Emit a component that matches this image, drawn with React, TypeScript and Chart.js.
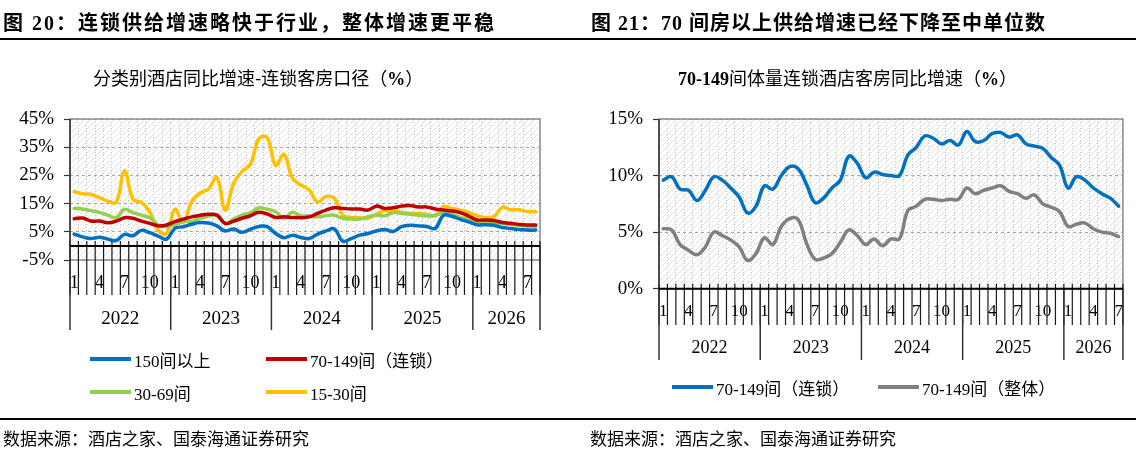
import { useEffect, useRef } from 'react';
import { Chart, registerables } from 'chart.js';

Chart.register(...registerables);

// x axis groups: left panel runs to 2026-08, right panel to 2026-07
const years = ['2022', '2023', '2024', '2025', '2026'];
const leftYearSpans = [12, 12, 12, 12, 8];
const rightYearSpans = [12, 12, 12, 12, 7];
const shownMonths = ['1', '4', '7', '10'];

const leftNames = ['150间以上', '70-149间（连锁）', '30-69间', '15-30间'];
const leftColors = ['#0070C0', '#C00000', '#92D050', '#FFC000'];
const rightNames = ['70-149间（连锁）', '70-149间（整体）'];
const rightColors = ['#0070C0', '#808080'];

// 分类别酒店同比增速（%）
const rooms150Plus = [
  4.2, 3.2, 2.6, 3.1, 2.4, 1.9, 4.1, 3.6, 5.5, 4.7,
  3.5, 2.4, 6.2, 6.8, 7.7, 8.3, 8.1, 7.1, 5.3, 6.0,
  4.8, 5.9, 6.9, 6.8, 4.4, 2.9, 3.8, 3.0, 2.6, 4.2,
  5.3, 6.0, 1.7, 2.6, 3.8, 4.4, 5.3, 5.8, 5.1, 6.8,
  7.3, 7.1, 6.9, 6.2, 10.8, 10.5, 9.4, 8.5, 7.5, 7.5,
  7.3, 6.5, 6.2, 5.8, 5.6, 5.6,
];
const rooms70to149Chain = [
  9.6, 9.9, 8.8, 8.8, 8.2, 8.8, 10.0, 9.8, 8.8, 8.0,
  7.1, 7.4, 8.6, 9.5, 10.3, 10.9, 11.2, 10.9, 8.0, 8.8,
  9.8, 10.7, 11.9, 11.3, 10.1, 10.3, 10.1, 10.0, 10.3, 11.5,
  12.7, 13.5, 13.3, 13.1, 13.1, 12.7, 14.1, 13.3, 13.5, 14.1,
  14.3, 13.8, 13.8, 13.1, 12.7, 12.4, 11.8, 10.6, 9.2, 9.2,
  9.0, 8.3, 8.0, 7.6, 7.4, 7.4,
];
const rooms30to69 = [
  13.3, 13.1, 12.5, 11.9, 10.9, 10.0, 13.0, 11.8, 10.9, 10.0,
  7.4, 6.8, 7.4, 8.8, 8.6, 9.8, 10.6, 10.9, 7.8, 9.5,
  10.9, 11.8, 13.5, 13.0, 12.1, 9.8, 11.9, 10.7, 10.6, 10.3,
  10.7, 10.9, 9.8, 9.5, 9.5, 10.3, 10.9, 10.7, 11.8, 11.6,
  11.2, 10.9, 10.6, 10.9, 11.6, 11.2, 10.1, 9.4, 8.0, 8.3,
  8.2, 8.0, 7.6, 7.4, 7.0, 6.8,
];
const rooms15to30 = [
  19.2, 18.5, 18.3, 17.1, 15.9, 15.4, 26.6, 16.6, 15.4, 12.1,
  5.6, 4.4, 13.0, 8.3, 15.7, 18.7, 20.2, 24.2, 12.7, 22.2,
  26.4, 29.0, 38.0, 38.4, 28.5, 32.5, 24.0, 21.6, 19.8, 15.5,
  17.5, 16.9, 10.9, 10.1, 10.0, 9.8, 11.2, 12.5, 12.4, 11.9,
  11.5, 11.6, 11.2, 10.6, 13.9, 13.3, 12.7, 11.9, 10.7, 10.0,
  10.3, 13.7, 12.8, 12.8, 12.2, 12.1,
];

// 70-149间体量客房同比增速（%）
const chain70to149 = [
  9.6, 9.9, 8.8, 8.7, 7.8, 8.7, 9.9, 9.6, 8.9, 8.1,
  6.7, 7.3, 9.1, 8.8, 10.0, 10.8, 10.6, 9.2, 7.6, 8.0,
  8.9, 9.6, 11.7, 11.1, 9.8, 10.3, 10.1, 10.0, 10.0, 11.8,
  12.5, 13.5, 13.3, 12.8, 13.1, 12.7, 13.9, 13.0, 13.1, 13.7,
  13.8, 13.4, 13.6, 12.8, 12.6, 12.4, 11.6, 10.9, 8.9, 9.9,
  9.6, 8.9, 8.4, 8.0, 7.3,
];
const total70to149 = [
  5.3, 5.2, 3.9, 3.4, 3.0, 3.7, 5.0, 4.7, 4.3, 3.7,
  2.5, 3.1, 4.5, 3.9, 5.5, 6.2, 6.1, 4.0, 2.6, 2.7,
  3.1, 4.1, 5.2, 4.7, 3.9, 4.4, 3.8, 4.4, 4.4, 6.9,
  7.3, 7.9, 7.9, 7.8, 7.9, 7.9, 8.9, 8.4, 8.7, 8.9,
  9.1, 8.6, 8.4, 8.0, 8.3, 7.5, 7.2, 6.8, 5.5, 5.7,
  5.8, 5.3, 5.0, 4.9, 4.6,
];

const buildMonths = (spans: number[]) =>
  spans.flatMap((s, i) => Array.from({ length: s }, (_, m) => `${years[i]}-${m + 1}`));

const SERIF = '"Liberation Serif", "Times New Roman", "Noto Sans CJK SC", serif';
const CJK = '"Noto Sans CJK SC", "Liberation Sans", sans-serif';

let hatch: CanvasPattern | string | null = null;
const getHatch = () => {
  if (hatch) return hatch;
  const c = document.createElement('canvas');
  c.width = 6;
  c.height = 6;
  const g = c.getContext('2d');
  if (!g) return '#f3f3f3';
  g.fillStyle = '#ffffff';
  g.fillRect(0, 0, 6, 6);
  g.strokeStyle = '#e2e2e2';
  g.lineWidth = 1;
  g.beginPath();
  g.moveTo(0, 6);
  g.lineTo(6, 0);
  g.stroke();
  hatch = g.createPattern(c, 'repeat') ?? '#f3f3f3';
  return hatch;
};

// Excel-like two level category axis (month ticks + year groups)
const excelAxis = {
  id: 'excelAxis',
  beforeDraw(chart: any) {
    const { ctx, chartArea: a } = chart;
    ctx.save();
    ctx.fillStyle = getHatch();
    ctx.fillRect(a.left, a.top, a.width, a.height);
    ctx.restore();
  },
  beforeDatasetsDraw(chart: any, _args: any, o: any) {
    const { ctx, chartArea: a, scales } = chart;
    const x = scales.x;
    const y = scales.y;
    const n = chart.data.labels.length;
    const step = x.getPixelForValue(1) - x.getPixelForValue(0);
    const edge = (k: number) => x.getPixelForValue(0) - step / 2 + k * step;
    const y0 = y.getPixelForValue(0);
    ctx.save();

    ctx.strokeStyle = '#8c8c8c';
    ctx.lineWidth = 1.5;
    ctx.strokeRect(a.left, a.top, a.width, a.height);

    // month tick marks
    ctx.strokeStyle = '#1a1a1a';
    ctx.lineWidth = 1.2;
    ctx.beginPath();
    for (let k = 0; k <= n; k++) {
      const px = edge(k);
      ctx.moveTo(px, y0 - 5);
      ctx.lineTo(px, o.monthBottom);
    }
    ctx.stroke();

    // year separators
    const bounds = [0];
    o.spans.forEach((s: number) => bounds.push(bounds[bounds.length - 1] + s));
    ctx.lineWidth = 1.5;
    ctx.strokeStyle = '#333333';
    ctx.beginPath();
    bounds.forEach((b) => {
      const px = edge(b);
      ctx.moveTo(px, y0);
      ctx.lineTo(px, o.yearBottom);
    });
    ctx.moveTo(a.left, a.top);
    ctx.lineTo(a.left, o.yearBottom);
    ctx.stroke();

    // category axis crossing at 0
    ctx.strokeStyle = '#000000';
    ctx.lineWidth = 2;
    ctx.beginPath();
    ctx.moveTo(a.left, y0);
    ctx.lineTo(a.right, y0);
    ctx.stroke();

    ctx.fillStyle = '#000000';
    ctx.font = o.yearFont;
    ctx.textAlign = 'center';
    ctx.textBaseline = 'middle';
    years.forEach((yr, i) => {
      ctx.fillText(yr, (edge(bounds[i]) + edge(bounds[i + 1])) / 2, o.yearY);
    });
    ctx.restore();
  },
};

interface PanelProps {
  left: number;
  spans: number[];
  series: number[][];
  names: string[];
  colors: string[];
  yMin: number;
  yMax: number;
  yStep: number;
  yWidth: number;
  padRight: number;
  xHeight: number;
  monthSize: number;
  monthPad: number;
  axis: { monthBottom: number; yearY: number; yearBottom: number; yearFont: string };
}

const Panel = (p: PanelProps) => {
  const chartRef = useRef<HTMLCanvasElement | null>(null);

  useEffect(() => {
    if (!chartRef.current) return;
    const labels = buildMonths(p.spans);
    const chart = new Chart(chartRef.current, {
      type: 'line',
      data: {
        labels,
        datasets: p.series.map((d, i) => ({
          label: p.names[i],
          data: d,
          borderColor: p.colors[i],
          backgroundColor: p.colors[i],
          borderWidth: 3.5,
          pointRadius: 0,
          tension: 0.4,
          fill: false,
          borderCapStyle: 'round',
          borderJoinStyle: 'round',
        })),
      },
      options: {
        animation: false,
        responsive: true,
        maintainAspectRatio: false,
        layout: { padding: { top: 119, right: p.padRight, left: 0, bottom: 0 } },
        plugins: {
          legend: { display: false },
          tooltip: { enabled: false },
          excelAxis: { ...p.axis, spans: p.spans },
        } as any,
        scales: {
          x: {
            offset: true,
            grid: { offset: true, color: '#c4c4c4', lineWidth: 1, drawTicks: false },
            border: { display: false, dash: [1, 2] },
            ticks: {
              autoSkip: false,
              maxRotation: 0,
              minRotation: 0,
              padding: p.monthPad,
              color: '#000',
              font: { family: SERIF, size: p.monthSize },
              callback: (_v: any, i: number) => {
                const m = labels[i].split('-')[1];
                return shownMonths.includes(m) ? m : '';
              },
            },
            afterFit: (s: any) => {
              s.height = p.xHeight;
            },
          },
          y: {
            min: p.yMin,
            max: p.yMax,
            ticks: {
              stepSize: p.yStep,
              padding: 10,
              color: '#000',
              font: { family: SERIF, size: 19 },
              callback: (v: any) => `${v}%`,
            },
            grid: {
              color: '#a6a6a6',
              lineWidth: 1,
              tickColor: '#333333',
              tickLength: 6,
              tickWidth: 1.2,
              tickBorderDash: [],
            },
            border: { display: false, dash: [3, 3] },
            afterFit: (s: any) => {
              s.width = p.yWidth;
            },
          },
        },
      },
      plugins: [excelAxis],
    } as any);

    return () => {
      chart.destroy();
    };
  }, []);

  return (
    <div style={{ position: 'absolute', left: p.left, top: 0, width: 568, height: 454 }}>
      <canvas ref={chartRef}></canvas>
    </div>
  );
};

const LegendItem = ({ x, y, color, label }: { x: number; y: number; color: string; label: string }) => (
  <div
    style={{
      position: 'absolute',
      left: x,
      top: y - 12,
      height: 24,
      display: 'flex',
      alignItems: 'center',
      whiteSpace: 'nowrap',
      fontFamily: SERIF,
      fontSize: 17,
      color: '#000',
    }}
  >
    <span style={{ display: 'inline-block', width: 41, height: 4, background: color, marginRight: 3 }} />
    {label}
  </div>
);

const text = (left: number, top: number, size: number, extra: object = {}) => ({
  position: 'absolute' as const,
  left,
  top,
  fontSize: size,
  lineHeight: 1,
  whiteSpace: 'nowrap' as const,
  color: '#000',
  ...extra,
});

const App = () => (
  <div
    style={{
      position: 'absolute',
      left: 0,
      top: 0,
      width: 1136,
      height: 454,
      background: '#fff',
      overflow: 'hidden',
    }}
  >
    <Panel
      left={0}
      spans={leftYearSpans}
      series={[rooms150Plus, rooms70to149Chain, rooms30to69, rooms15to30]}
      names={leftNames}
      colors={leftColors}
      yMin={-5}
      yMax={45}
      yStep={10}
      yWidth={70}
      padRight={28}
      xHeight={194}
      monthSize={18}
      monthPad={12}
      axis={{ monthBottom: 295, yearY: 319, yearBottom: 330, yearFont: `19px ${SERIF}` }}
    />
    <Panel
      left={568}
      spans={rightYearSpans}
      series={[chain70to149, total70to149]}
      names={rightNames}
      colors={rightColors}
      yMin={0}
      yMax={15}
      yStep={5}
      yWidth={91}
      padRight={5}
      xHeight={165.3}
      monthSize={17}
      monthPad={13}
      axis={{ monthBottom: 325, yearY: 348, yearBottom: 360, yearFont: `18px ${SERIF}` }}
    />

    {/* headers */}
    <div style={text(3, 13, 20, { fontFamily: SERIF, fontWeight: 700, letterSpacing: 2 })}>
      图 20：连锁供给增速略快于行业，整体增速更平稳
    </div>
    <div style={text(591, 13, 20, { fontFamily: SERIF, fontWeight: 700, letterSpacing: 1 })}>
      图 21：70 间房以上供给增速已经下降至中单位数
    </div>
    <div style={{ position: 'absolute', left: 0, top: 38, width: 1136, height: 2, background: '#000' }} />

    {/* chart titles */}
    <div style={text(93, 68, 18, { fontFamily: CJK })}>
      分类别酒店同比增速-连锁客房口径（<b style={{ fontFamily: SERIF }}>%</b>）
    </div>
    <div style={text(678, 68, 18, { fontFamily: CJK })}>
      <b style={{ fontFamily: SERIF }}>70-149</b>间体量连锁酒店客房同比增速（
      <b style={{ fontFamily: SERIF }}>%</b>）
    </div>

    {/* legends */}
    {leftNames.map((n, i) => (
      <LegendItem
        key={n}
        x={i % 2 === 0 ? 90 : 266}
        y={i < 2 ? 359 : 392}
        color={leftColors[i]}
        label={n}
      />
    ))}
    {rightNames.map((n, i) => (
      <LegendItem key={n} x={i === 0 ? 672 : 878} y={387} color={rightColors[i]} label={n} />
    ))}

    {/* footers */}
    <div style={{ position: 'absolute', left: 0, top: 418, width: 1136, height: 2, background: '#000' }} />
    <div style={text(3, 429, 17, { fontFamily: CJK })}>数据来源：酒店之家、国泰海通证券研究</div>
    <div style={text(590, 429, 17, { fontFamily: CJK })}>数据来源：酒店之家、国泰海通证券研究</div>
  </div>
);

export default App;
